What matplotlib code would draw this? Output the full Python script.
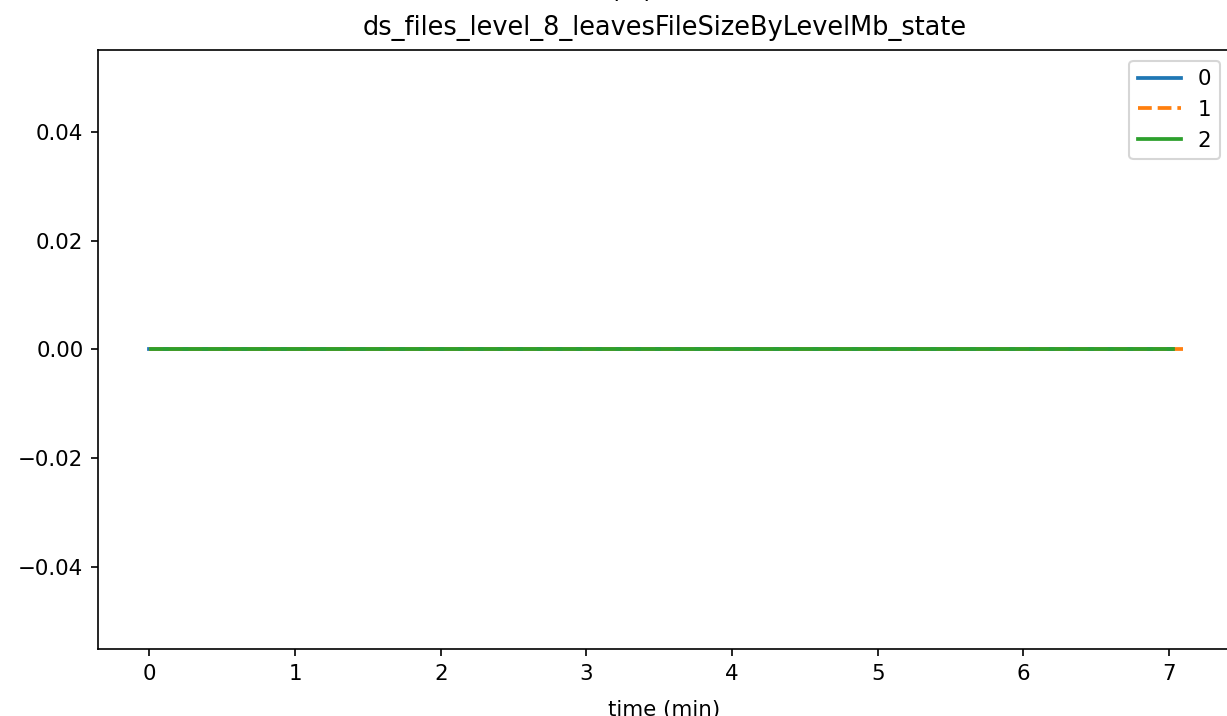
import matplotlib
matplotlib.use("Agg")
import matplotlib.pyplot as plt

# time (min) and value for each run
t0 = [0.0, 0.5, 1.0, 1.5, 2.0, 2.5, 3.0, 3.5, 4.0, 4.5, 5.0, 5.5, 6.0, 6.5, 7.03]
v0 = [0, 0, 0, 0, 0, 0, 0, 0, 0, 0, 0, 0, 0, 0, 0]
t1 = [0.0, 0.5, 1.0, 1.5, 2.0, 2.5, 3.0, 3.5, 4.0, 4.5, 5.0, 5.5, 6.0, 6.5, 7.095]
v1 = [0, 0, 0, 0, 0, 0, 0, 0, 0, 0, 0, 0, 0, 0, 0]
t2 = [0.01, 0.5, 1.0, 1.5, 2.0, 2.5, 3.0, 3.5, 4.0, 4.5, 5.0, 5.5, 6.0, 6.5, 7.03]
v2 = [0, 0, 0, 0, 0, 0, 0, 0, 0, 0, 0, 0, 0, 0, 0]

plt.rcParams["font.size"] = 10.25
plt.rcParams["lines.linewidth"] = 1.8

fig = plt.figure(figsize=(1227 / 150, 716 / 150), dpi=150)
# figure is cropped on the right: right spine sits just off the canvas
ax = fig.add_axes([98 / 1227, 1 - 649 / 716, (1230.6 - 98) / 1227, (649 - 50) / 716])

ax.plot(t0, v0, label="0")
ax.plot(t1, v1, "--", dashes=(3.67, 1.58), label="1")
ax.plot(t2, v2, label="2")

ax.set_ylim(-0.055, 0.055)
ax.set_xlim(-0.3535, 7.4235)
ax.set_title("ds_files_level_8_leavesFileSizeByLevelMb_state", fontsize=12.3, pad=7)
ax.set_xlabel("time (min)", labelpad=8)
ax.legend(loc="upper right")

fig.text(0.515, 1 + 3 / 716, "(...)", ha="center", va="baseline", fontsize=12.3)

fig.savefig("out.png", dpi=150)
